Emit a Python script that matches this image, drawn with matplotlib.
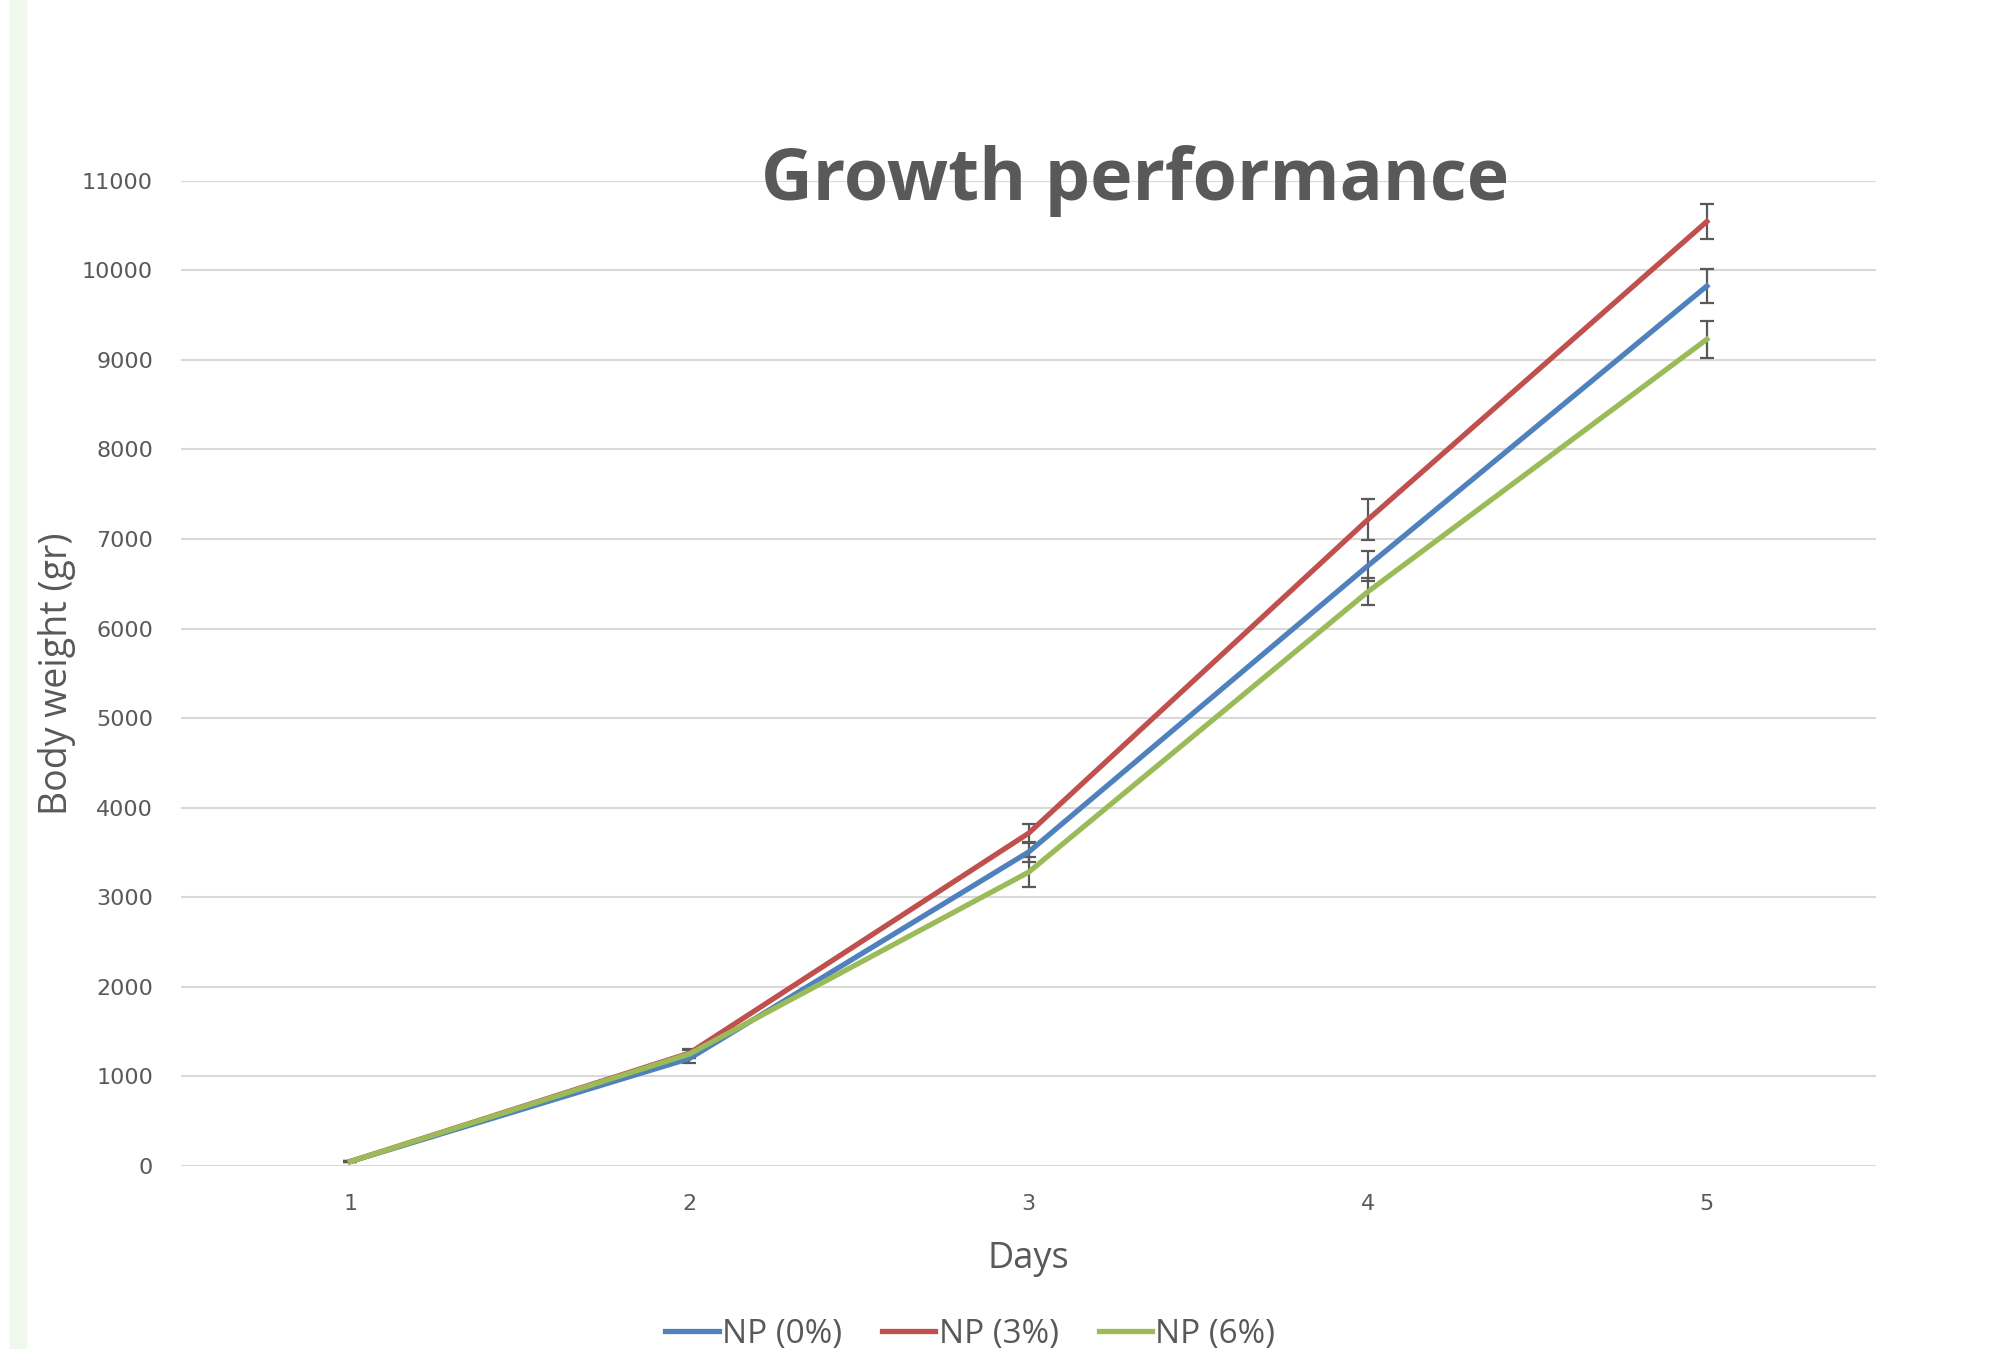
import matplotlib
matplotlib.use('Agg')
import matplotlib.pyplot as plt
from matplotlib.patches import Rectangle

days = [1, 2, 3, 4, 5]
series_names = ["NP (0%)", "NP (3%)", "NP (6%)"]
np0 = [50, 1200, 3505, 6700, 9825]
np0_err = [10, 50, 115, 170, 195]
np3 = [50, 1260, 3715, 7215, 10545]
np3_err = [10, 50, 105, 230, 195]
np6 = [50, 1250, 3280, 6410, 9230]
np6_err = [10, 50, 165, 150, 205]
yticks = list(range(0, 11001, 1000))

colors = ["#4F81BD", "#C0504D", "#9BBB59"]
text_col = "#595959"

fig = plt.figure(figsize=(20.09, 13.49), dpi=100)
fig.patches.append(Rectangle((10 / 2009, 0), 16 / 2009, 1, transform=fig.transFigure,
                             color="#F1F8EE", zorder=0))

ax = fig.add_axes([0.09, 0.1357, 0.844, 0.7303])
for vals, errs, name, c in zip([np0, np3, np6], [np0_err, np3_err, np6_err], series_names, colors):
    ax.errorbar(days, vals, yerr=errs, color=c, lw=3.8, label=name,
                ecolor=text_col, elinewidth=1.6, capsize=5, capthick=1.6, zorder=3)

ax.set_xlim(0.5, 5.5)
ax.set_ylim(0, 11000)
ax.set_yticks(yticks)
ax.set_xticks(days)
ax.grid(axis='y', color="#D9D9D9", lw=1.5)
ax.set_axisbelow(True)
for s in ax.spines.values():
    s.set_visible(False)
ax.tick_params(length=0, labelsize=16, labelcolor=text_col, pad=20)

ax.set_xlabel("Days", fontsize=26, color=text_col, family="Open Sans", labelpad=20)
ax.set_ylabel("Body weight (gr)", fontsize=27, color=text_col, family="Open Sans", labelpad=4)

fig.text(0.565, 0.866, "Growth performance", fontsize=51.5, fontweight='bold',
         color=text_col, family="Open Sans", ha='center', va='center')

handles, labels = ax.get_legend_handles_labels()
handles = [h[0] for h in handles]
leg = fig.legend(handles, labels, loc='center', bbox_to_anchor=(0.483, 0.011), ncol=3,
                 frameon=False, handlelength=1.6, handletextpad=0.1, columnspacing=1.2,
                 prop={'family': 'Open Sans', 'size': 24})
for t in leg.get_texts():
    t.set_color(text_col)

fig.savefig("out.png", dpi=100)
